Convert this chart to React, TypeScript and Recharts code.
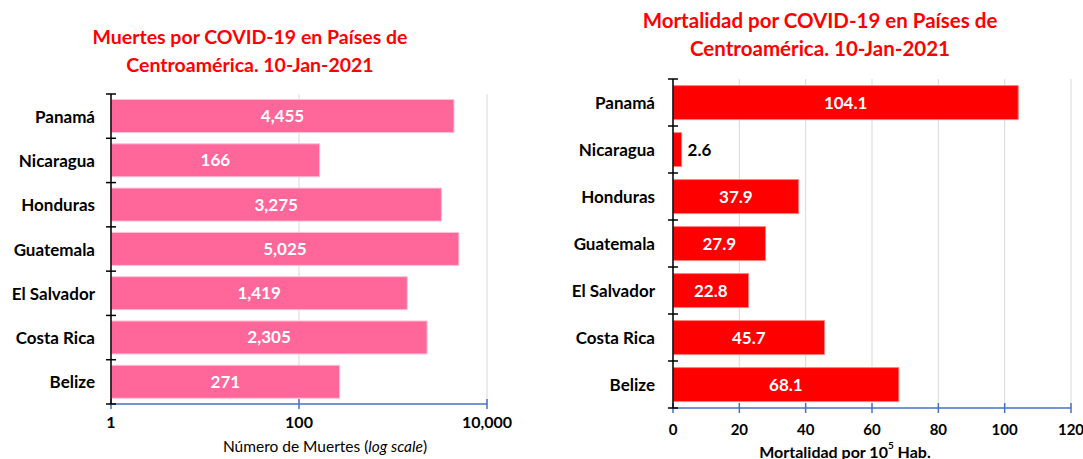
import React from 'react';
import { BarChart, Bar, XAxis, YAxis, CartesianGrid, LabelList } from 'recharts';

const countries = ['Panamá', 'Nicaragua', 'Honduras', 'Guatemala', 'El Salvador', 'Costa Rica', 'Belize'];
const deaths = [4455, 166, 3275, 5025, 1419, 2305, 271];
const mortality = [104.1, 2.6, 37.9, 27.9, 22.8, 45.7, 68.1];
const deathTicks = [1, 100, 10000];
const mortalityTicks = [0, 20, 40, 60, 80, 100, 120];

const FONT = 'Lato, "Open Sans", sans-serif';
const BLUE = '#4472C4';
const TICK_SIZE = 6;

const deathData = countries.map((c, i) => ({ name: c, value: deaths[i] }));
const mortData = countries.map((c, i) => ({ name: c, value: mortality[i] }));

const fmt = (v: number) => v.toLocaleString('en-US');

// category label + excel-style boundary tick marks crossing the axis
const makeCatTick = (margin: number) => (props: any) => {
  const { x, y, payload, index, visibleTicksCount } = props;
  const axisX = x + TICK_SIZE + margin;
  const off = payload.offset ?? 0;
  const isLast = index === visibleTicksCount - 1;
  return (
    <g>
      <text
        x={x}
        y={y}
        textAnchor="end"
        dominantBaseline="central"
        fill="#000"
        fontWeight={700}
        fontSize={17}
        fontFamily={FONT}
      >
        {payload.value}
      </text>
      <line x1={axisX - 5} x2={axisX + 5} y1={y - off} y2={y - off} stroke="#000" strokeWidth={1.5} />
      {isLast && (
        <line x1={axisX - 5} x2={axisX + 5} y1={y + off} y2={y + off} stroke="#000" strokeWidth={1.5} />
      )}
    </g>
  );
};

const MortLabel = (props: any) => {
  const { x, y, width, height, value } = props;
  const small = value < 10;
  return (
    <text
      x={small ? x + width + 6 : x + width / 2}
      y={y + height / 2}
      textAnchor={small ? 'start' : 'middle'}
      dominantBaseline="central"
      fill={small ? '#000' : '#fff'}
      fontWeight={700}
      fontSize={17}
      fontFamily={FONT}
    >
      {value.toFixed(1)}
    </text>
  );
};

const LeftTitle = (props: any) => {
  const { viewBox } = props;
  return (
    <text
      x={viewBox.x + viewBox.width / 2 + 26}
      y={viewBox.y + 42}
      textAnchor="middle"
      dominantBaseline="central"
      fontSize={15.5}
      fontFamily={FONT}
      fill="#000"
    >
      Número de Muertes (<tspan fontStyle="italic">log scale</tspan>)
    </text>
  );
};

const RightTitle = (props: any) => {
  const { viewBox } = props;
  return (
    <text
      x={viewBox.x + viewBox.width / 2 - 27}
      y={viewBox.y + 43}
      textAnchor="middle"
      dominantBaseline="central"
      fontSize={16}
      fontWeight={700}
      fontFamily={FONT}
      fill="#000"
    >
      Mortalidad por 10<tspan fontSize={10} dy={-6}>5</tspan><tspan dy={6}> Hab.</tspan>
    </text>
  );
};

const titleStyle: React.CSSProperties = {
  position: 'absolute',
  color: '#FF0000',
  fontFamily: FONT,
  fontWeight: 700,
  lineHeight: '28px',
  textAlign: 'center',
};

const tickFont = { fill: '#000', fontWeight: 700, fontSize: 16, fontFamily: FONT };
const tickFontRight = { ...tickFont, fontSize: 15 };
// tick lines that cross the x axis (5px each side)
const xTickLine = { stroke: BLUE, strokeWidth: 1.5, transform: 'translate(0,-5)' };

export default function App() {
  return (
    <div style={{ position: 'absolute', left: 0, top: 0, width: 1083, height: 459, background: '#fff' }}>
      <div style={{ ...titleStyle, fontSize: 19.5, left: 0, width: 500, top: 23 }}>
        Muertes por COVID-19 en Países de<br />Centroamérica. 10-Jan-2021
      </div>
      <div style={{ ...titleStyle, fontSize: 20.5, left: 570, width: 500, top: 6 }}>
        Mortalidad por COVID-19 en Países de<br />Centroamérica. 10-Jan-2021
      </div>

      <div style={{ position: 'absolute', left: 0, top: 0 }}>
        <BarChart
          width={540}
          height={459}
          data={deathData}
          layout="vertical"
          margin={{ top: 94, right: 53, bottom: 0, left: 0 }}
          barCategoryGap="12.5%"
        >
          <CartesianGrid horizontal={false} stroke="#d9d9d9" />
          <XAxis
            type="number"
            scale="log"
            domain={[1, 10000]}
            ticks={deathTicks}
            allowDataOverflow
            height={55}
            axisLine={{ stroke: BLUE, strokeWidth: 1.5 }}
            tickLine={xTickLine}
            tickSize={10}
            tickMargin={3}
            tick={tickFont}
            tickFormatter={fmt}
            label={{ content: LeftTitle }}
          />
          <YAxis
            type="category"
            dataKey="name"
            width={111}
            axisLine={{ stroke: '#000', strokeWidth: 1.5 }}
            tickLine={false}
            tickSize={TICK_SIZE}
            tickMargin={10}
            tick={makeCatTick(10)}
          />
          <Bar dataKey="value" fill="#FF6699" stroke="#ffc2d6" strokeWidth={1} isAnimationActive={false}>
            <LabelList
              dataKey="value"
              position="center"
              formatter={(v: any) => fmt(Number(v))}
              fill="#fff"
              fontWeight={700}
              fontSize={17}
              fontFamily={FONT}
            />
          </Bar>
        </BarChart>
      </div>

      <div style={{ position: 'absolute', left: 540, top: 0 }}>
        <BarChart
          width={543}
          height={459}
          data={mortData}
          layout="vertical"
          margin={{ top: 79, right: 12, bottom: 0, left: 0 }}
          barCategoryGap="14%"
        >
          <CartesianGrid horizontal={false} stroke="#d9d9d9" />
          <XAxis
            type="number"
            domain={[0, 120]}
            ticks={mortalityTicks}
            allowDataOverflow
            height={51}
            axisLine={{ stroke: BLUE, strokeWidth: 1.5 }}
            tickLine={xTickLine}
            tickSize={10}
            tickMargin={6}
            tick={tickFontRight}
            label={{ content: RightTitle }}
          />
          <YAxis
            type="category"
            dataKey="name"
            width={133}
            axisLine={{ stroke: '#000', strokeWidth: 1.5 }}
            tickLine={false}
            tickSize={TICK_SIZE}
            tickMargin={12}
            tick={makeCatTick(12)}
          />
          <Bar dataKey="value" fill="#FF0000" stroke="#ff8080" strokeWidth={1} isAnimationActive={false}>
            <LabelList dataKey="value" content={MortLabel} />
          </Bar>
        </BarChart>
      </div>
    </div>
  );
}
